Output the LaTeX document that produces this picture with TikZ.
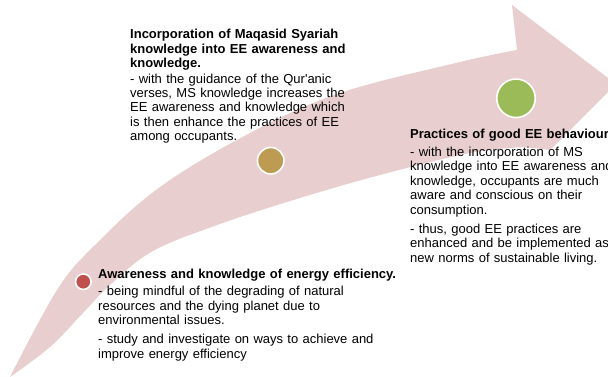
\documentclass[tikz,border=0pt]{standalone}
\usepackage{fontspec}
\setmainfont{Liberation Sans}
\definecolor{band}{RGB}{232,206,206}
\definecolor{dotred}{RGB}{192,80,77}
\definecolor{dotgold}{RGB}{190,155,82}
\definecolor{dotgreen}{RGB}{155,187,89}
\begin{document}
\begin{tikzpicture}[x=1pt,y=-1pt,
  dot/.style={circle,draw=white,line width=1.6pt,inner sep=0pt},
  blk/.style={anchor=base west,inner sep=0pt,align=left,text width=330pt,
    font=\fontsize{13}{14.5}\selectfont}]
\useasboundingbox (0,0) rectangle (608,377);
\clip (0,0) rectangle (608,377);
\fill[band] plot[smooth,tension=0.6] coordinates {(10,377) (57,290) (95,245) (160,187) (250,133) (340,93) (460,62) (517,50)}
  -- (512,5) -- (616,84) -- (550,150) --
  plot[smooth,tension=0.6] coordinates {(525,147) (470,153) (380,175) (300,198) (220,224) (153,251) (110,285) (83,313) (50,347) (10,377)} -- cycle;
\node[dot,fill=dotred,minimum size=15.5pt] (d1) at (83.3,281.7) {};
\node[dot,fill=dotgold,minimum size=26.5pt] (d2) at (270.7,160.7) {};
\node[dot,fill=dotgreen,minimum size=38.5pt] (d3) at (516,98.3) {};
\node[blk] (b1) at (98,278) {\textbf{Awareness and knowledge of energy efficiency.}\\[3pt]
- being mindful of the degrading of natural\\
resources and the dying planet due to\\
environmental issues.\\[4.5pt]
- study and investigate on ways to achieve and\\
improve energy efficiency};
\node[blk,font=\fontsize{13}{14.2}\selectfont] (b2) at (130,39) {\textbf{Incorporation of Maqasid Syariah}\\
\textbf{knowledge into EE awareness and}\\
\textbf{knowledge.}\\[2pt]
- with the guidance of the Qur\textquotesingle anic\\
verses, MS knowledge increases the\\
EE awareness and knowledge which\\
is then enhance the practices of EE\\
among occupants.};
\node[blk] (b3) at (410,139) {\textbf{Practices of good EE behaviour}\\[3pt]
- with the incorporation of MS\\
knowledge into EE awareness and\\
knowledge, occupants are much\\
aware and conscious on their\\
consumption.\\[4.5pt]
- thus, good EE practices are\\
enhanced and be implemented as\\
new norms of sustainable living.};
\end{tikzpicture}
\end{document}
